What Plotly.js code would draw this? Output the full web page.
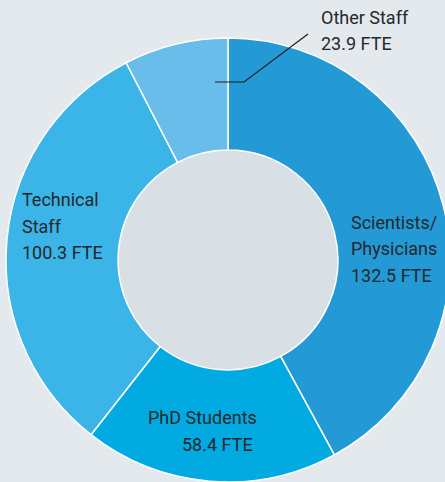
<!DOCTYPE html>
<html><head><meta charset="utf-8">
<script src="https://cdn.plot.ly/plotly-3.0.1.min.js"></script>
<style>html,body{margin:0;padding:0;overflow:hidden;background:#e4e9ed;width:445px;height:482px}#c{width:456px;height:520px}</style>
</head><body><div id="c"></div>
<script>
const categories = ["Scientists/Physicians", "PhD Students", "Technical Staff", "Other Staff"];
const values = [132.5, 58.4, 100.3, 23.9];
const labelLines = [["Scientists/", "Physicians"], ["PhD Students"], ["Technical", "Staff"], ["Other Staff"]];
const colors = ["#239ad6", "#02aae2", "#3bb4e7", "#69bdea"];

const W = 456, H = 520;
const px = x => x / W, py = y => 1 - y / H;
const font = {family: "Roboto, Noto Sans, sans-serif", size: 18, color: "#24282c"};

// label anchor positions (pixels): left x, top-line center y, line spacing
const labelPos = [
  {x: 349, y: 222, dy: 26.5},
  {x: 146, y: 417, dy: 27},
  {x: 20, y: 200, dy: 26},
  {x: 319, y: 18, dy: 25}
];
const annotations = [];
categories.forEach((c, i) => {
  const lines = labelLines[i].concat([values[i].toFixed(1) + " FTE"]);
  lines.forEach((t, j) => {
    let x = labelPos[i].x;
    if (i === 1 && j === 1) x = 180;
    annotations.push({text: t, x: px(x), y: py(labelPos[i].y + j * labelPos[i].dy), xref: "paper", yref: "paper",
      xanchor: "left", yanchor: "middle", showarrow: false, font: font});
  });
});

const data = [{
  type: "pie", labels: categories, values: values, hole: 0.495, sort: false, direction: "clockwise", rotation: 0,
  marker: {colors: colors, line: {color: "#ffffff", width: 1.5}},
  textinfo: "none", hoverinfo: "label+value", showlegend: false,
  domain: {x: [6 / W, 450 / W], y: [38 / H, 482 / H]}
}];

const layout = {
  width: W, height: H, margin: {l: 0, r: 0, t: 0, b: 0},
  paper_bgcolor: "#e4e9ed", plot_bgcolor: "#e4e9ed",
  annotations: annotations,
  shapes: [
    {type: "circle", xref: "paper", yref: "paper", layer: "below", x0: px(118), x1: px(338), y0: py(150), y1: py(370),
      fillcolor: "#d8dfe5", line: {width: 0}},
    {type: "path", xref: "paper", yref: "paper", layer: "above",
      path: `M ${px(215)} ${py(82)} L ${px(244)} ${py(82)} L ${px(308)} ${py(34)}`,
      line: {color: "#1e1e1e", width: 1.2}}
  ]
};
Plotly.newPlot("c", data, layout, {displayModeBar: false, staticPlot: true});
</script></body></html>
